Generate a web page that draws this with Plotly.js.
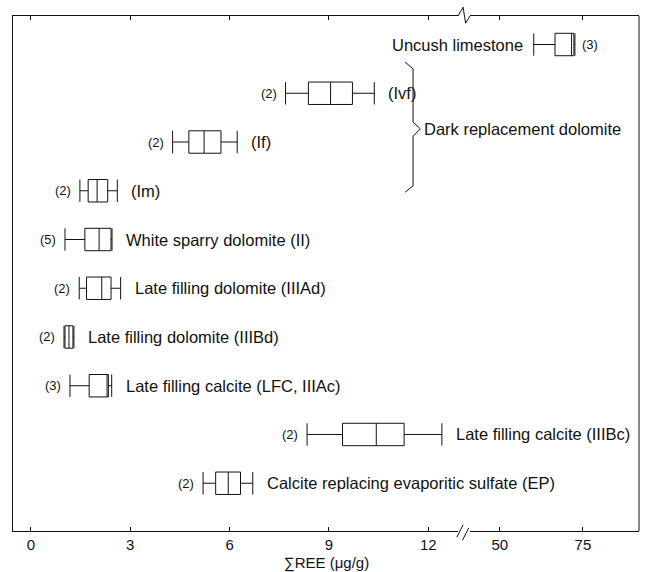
<!DOCTYPE html>
<html><head><meta charset="utf-8">
<script src="https://cdn.plot.ly/plotly-3.0.1.min.js"></script>
<style>html,body{margin:0;padding:0;background:#fff}</style>
</head><body><div id="chart" style="width:649px;height:572px"></div>
<script>
// rows from top to bottom
const rows = ["Uncush","Ivf","If","Im","II","IIIAd","IIIBd","IIIAc","IIIBc","EP"];
const counts = [3,2,2,2,5,2,2,3,2,2];
const names = ["Uncush limestone","(Ivf)","(If)","(Im)","White sparry dolomite (II)",
  "Late filling dolomite (IIIAd)","Late filling dolomite (IIIBd)",
  "Late filling calcite (LFC, IIIAc)","Late filling calcite (IIIBc)",
  "Calcite replacing evaporitic sulfate (EP)"];
// ΣREE (µg/g) statistics
const minV = [60.2, 7.69, 4.28, 1.48, 1.03, 1.46, 1.00, 1.18, 8.34, 5.20];
const q1V  = [66.6, 8.38, 4.77, 1.73, 1.63, 1.68, 1.03, 1.76, 9.41, 5.58];
const medV = [71.6, 9.05, 5.23, 2.00, 2.06, 2.14, 1.15, 2.30, 10.43, 5.96];
const q3V  = [72.3, 9.71, 5.74, 2.32, 2.42, 2.42, 1.27, 2.34, 11.27, 6.33];
const maxV = [72.6, 10.37, 6.23, 2.61, 2.45, 2.71, 1.30, 2.44, 12.41, 6.70];
const leftTicks = [0,3,6,9,12];
const rightTicks = [50,75];
const braceLabel = "Dark replacement dolomite";
const xTitle = "∑REE (μg/g)";

const FONT = "Liberation Sans, Arial, Helvetica, sans-serif";
const NAME_SIZE = 16.5, COUNT_SIZE = 13;
const traces = [];
const annotations = [];
rows.forEach((r,i)=>{
  const onRight = minV[i] > 30;
  traces.push({
    type:'box', orientation:'h', y:[r],
    q1:[q1V[i]], median:[medV[i]], q3:[q3V[i]], lowerfence:[minV[i]], upperfence:[maxV[i]],
    xaxis: onRight ? 'x2':'x', yaxis: onRight ? 'y2':'y',
    line:{color:'#111', width:1}, fillcolor:'#fff', whiskerwidth:1, width:0.46,
    boxpoints:false, hoverinfo:'skip', showlegend:false
  });
  const xr = onRight ? 'x2':'x', yr = onRight ? 'y2':'y';
  if (onRight) {
    annotations.push({xref:xr, yref:yr, x:minV[i], y:r, text:names[i], xanchor:'right', xshift:-9, showarrow:false, font:{family:FONT,size:NAME_SIZE,color:'#111'}});
    annotations.push({xref:xr, yref:yr, x:maxV[i], y:r, text:'('+counts[i]+')', xanchor:'left', xshift:5, showarrow:false, font:{family:FONT,size:COUNT_SIZE,color:'#111'}});
  } else {
    annotations.push({xref:xr, yref:yr, x:minV[i], y:r, text:'('+counts[i]+')', xanchor:'right', xshift:-7, showarrow:false, font:{family:FONT,size:COUNT_SIZE,color:'#111'}});
    annotations.push({xref:xr, yref:yr, x:maxV[i], y:r, text:names[i], xanchor:'left', xshift:12, showarrow:false, font:{family:FONT,size:NAME_SIZE,color:'#111'}});
  }
});
annotations.push({xref:'x', yref:'y', x:11.8, y:1.73, text:braceLabel, xanchor:'left', showarrow:false, font:{family:FONT,size:NAME_SIZE,color:'#111'}});
annotations.push({xref:'paper', yref:'paper', x:0.5, y:-0.041, yanchor:'top', text:xTitle, showarrow:false, font:{family:FONT,size:15,color:'#111'}});

const d1 = 0.711, d2 = 0.730;
const shapes = [
  // brace
  {type:'path', xref:'x', yref:'y', path:'M 11.3,0.36 L 11.54,0.5 L 11.54,1.59 L 11.76,1.73 L 11.54,1.88 L 11.54,2.9 L 11.3,3.03', line:{color:'#111', width:1}},
  // top break zigzag
  {type:'path', xref:'paper', yref:'paper', path:`M ${d1},1 L ${d1+0.008},1.017 L ${d1+0.012},0.986 L ${d2},1`, line:{color:'#111', width:1}},
  // bottom break slashes
  {type:'line', xref:'paper', yref:'paper', x0:d1-0.002, y0:-0.012, x1:d1+0.008, y1:0.012, line:{color:'#111', width:1}},
  {type:'line', xref:'paper', yref:'paper', x0:d2-0.012, y0:-0.018, x1:d2-0.002, y1:0.006, line:{color:'#111', width:1}},
  // right frame
  {type:'line', xref:'paper', yref:'paper', x0:1, y0:0, x1:1, y1:1, line:{color:'#111', width:1}}
];

const axBase = {showline:true, linecolor:'#111', linewidth:1, ticks:'inside', ticklen:4, tickcolor:'#111',
  mirror:'ticks', showgrid:false, zeroline:false, tickfont:{family:FONT,size:15,color:'#111'}};
const yBase = {type:'category', categoryorder:'array', categoryarray:rows, range:[9.98,-0.585],
  showgrid:false, zeroline:false, showticklabels:false, ticks:''};
const layout = {
  width:649, height:572, margin:{l:13, r:10, t:16, b:41},
  paper_bgcolor:'#fff', plot_bgcolor:'rgba(0,0,0,0)',
  xaxis: Object.assign({}, axBase, {domain:[0,d1], range:[-0.54,12.9], tickvals:leftTicks}),
  xaxis2: Object.assign({}, axBase, {domain:[d2,1], range:[41,91.9], tickvals:rightTicks, anchor:'y2'}),
  yaxis: Object.assign({}, yBase, {showline:true, linecolor:'#111', linewidth:1}),
  yaxis2: Object.assign({}, yBase, {anchor:'x2', matches:'y', showline:false}),
  annotations, shapes, showlegend:false
};
Plotly.newPlot('chart', traces, layout, {staticPlot:true});
</script></body></html>
